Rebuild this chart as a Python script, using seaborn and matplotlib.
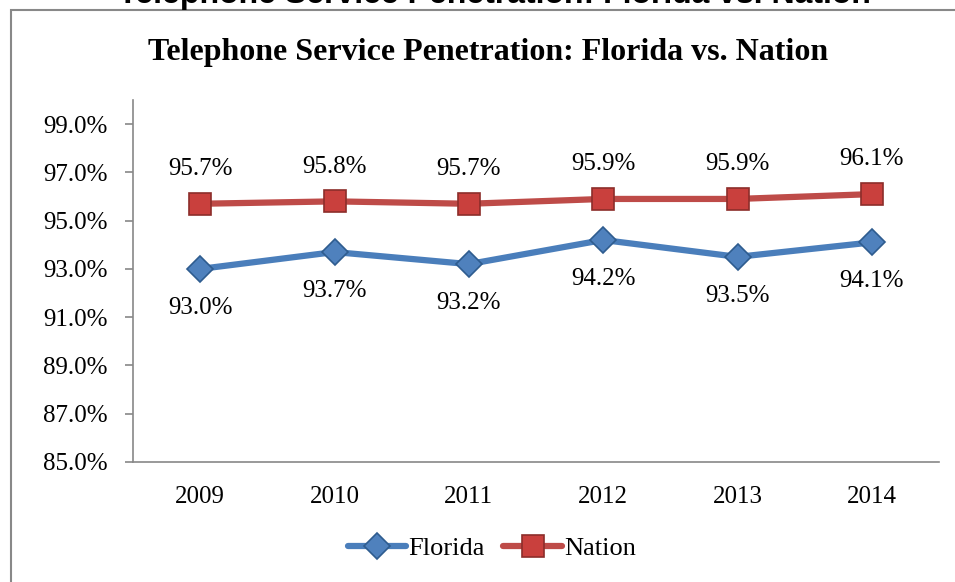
import matplotlib
matplotlib.use("Agg")
import pandas as pd
import matplotlib.pyplot as plt
import seaborn as sns
from matplotlib.patches import Rectangle

# data
years = [2009, 2010, 2011, 2012, 2013, 2014]
florida = [93.0, 93.7, 93.2, 94.2, 93.5, 94.1]
nation = [95.7, 95.8, 95.7, 95.9, 95.9, 96.1]
y_ticks = [85, 87, 89, 91, 93, 95, 97, 99]

df = pd.DataFrame({
    "year": years * 2,
    "value": florida + nation,
    "series": ["Florida"] * len(years) + ["Nation"] * len(years),
})

sns.set_style("white")
plt.rcParams["font.family"] = ["Liberation Serif", "DejaVu Serif"]
plt.rcParams["text.color"] = "black"
plt.rcParams["xtick.labelcolor"] = "black"
plt.rcParams["ytick.labelcolor"] = "black"

fig = plt.figure(figsize=(9.55, 5.82), dpi=100)
ax = fig.add_axes([133 / 955, 1 - 462 / 582, (939 - 133) / 955, (462 - 100) / 582])

# Excel-like styling per series
styles = {
    "Florida": dict(color="#4A7EBB", marker="D", markersize=13,
                    markerfacecolor="#4F81BD", markeredgecolor="#2E5C8F"),
    "Nation": dict(color="#BE4B48", marker="s", markersize=16,
                   markerfacecolor="#C9403D", markeredgecolor="#8C2D2A"),
}
for name in ["Florida", "Nation"]:
    sub = df[df["series"] == name]
    sns.lineplot(data=sub, x="year", y="value", ax=ax, linewidth=4.5,
                 label=name, markeredgewidth=1.2, **styles[name])

# data labels
for x, v in zip(years, florida):
    ax.annotate(f"{v:.1f}%", (x, v), xytext=(0, -28), textcoords="offset points",
                ha="center", va="center", fontsize=18)
for x, v in zip(years, nation):
    ax.annotate(f"{v:.1f}%", (x, v), xytext=(0, 25), textcoords="offset points",
                ha="center", va="center", fontsize=18)

ax.set_xlim(years[0] - 0.5, years[-1] + 0.5)
ax.set_ylim(85, 100)
ax.set_yticks(y_ticks)
ax.set_yticklabels([f"{t:.1f}%" for t in y_ticks], fontsize=18)
ax.set_xticks(years)
ax.set_xticklabels([str(y) for y in years], fontsize=18)
ax.set_xticks([y + 0.5 for y in [years[0] - 1] + years], minor=True)
ax.tick_params(axis="x", which="major", length=0, pad=17)
ax.tick_params(axis="x", which="minor", length=6, width=1.2, color="#888888", direction="out")
ax.tick_params(axis="y", length=6, width=1.2, color="#888888", direction="out", pad=12, left=True)
ax.set_xlabel("")
ax.set_ylabel("")
ax.grid(False)
for s in ["top", "right"]:
    ax.spines[s].set_visible(False)
for s in ["left", "bottom"]:
    ax.spines[s].set_color("#888888")
    ax.spines[s].set_linewidth(1.2)

ax.legend(loc="center", bbox_to_anchor=(492 / 955, 1 - 548 / 582),
          bbox_transform=fig.transFigure, ncol=2, frameon=False, fontsize=19,
          handlelength=2.2, handletextpad=0.1, columnspacing=0.7)

# chart title and outer frame
fig.text(488 / 955, 1 - 60 / 582, "Telephone Service Penetration: Florida vs. Nation",
         ha="center", va="baseline", fontsize=23, fontweight="bold")
fig.text(494 / 955, 1 - 3 / 582, "Telephone Service Penetration: Florida vs. Nation",
         ha="center", va="baseline", fontsize=23, fontweight="bold",
         family=["Liberation Sans", "DejaVu Sans"])
fig.patches.append(Rectangle((11 / 955, -0.1), 1.2, 1 - 10 / 582 + 0.1,
                             transform=fig.transFigure, fill=False,
                             edgecolor="#888888", linewidth=1.5))

fig.savefig("out.png", dpi=100)
